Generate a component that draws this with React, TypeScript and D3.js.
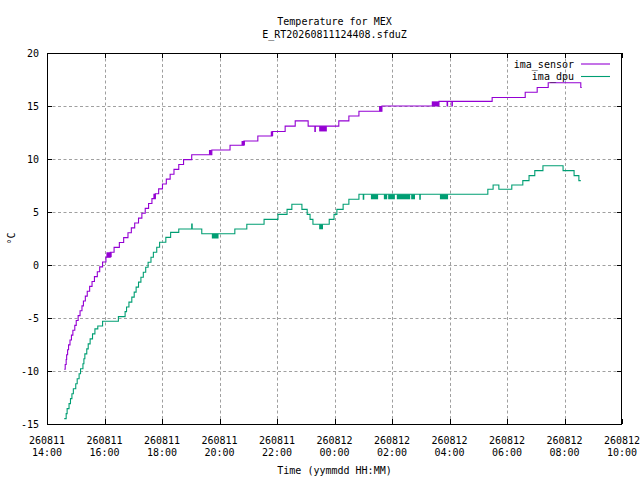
import React from "react";
import * as d3 from "d3";

// ---------- data ----------
const sensorTimes = [
  "260811 14:36", "260811 14:38", "260811 14:40", "260811 14:41", "260811 14:43", "260811 14:45",
  "260811 14:48", "260811 14:51", "260811 14:54", "260811 14:58", "260811 15:01", "260811 15:05",
  "260811 15:09", "260811 15:13", "260811 15:16", "260811 15:20", "260811 15:24", "260811 15:29",
  "260811 15:34", "260811 15:39", "260811 15:45", "260811 15:50", "260811 15:56", "260811 16:03",
  "260811 16:12", "260811 16:20", "260811 16:31", "260811 16:40", "260811 16:49", "260811 16:56",
  "260811 17:03", "260811 17:11", "260811 17:18", "260811 17:25", "260811 17:32", "260811 17:39",
  "260811 17:46", "260811 17:53", "260811 18:01", "260811 18:09", "260811 18:17", "260811 18:25",
  "260811 18:35", "260811 18:45", "260811 19:02", "260811 19:44", "260811 20:22", "260811 20:51",
  "260811 21:20", "260811 21:50", "260811 22:17", "260811 22:38", "260811 23:05", "260811 23:19",
  "260811 23:20", "260812 00:09", "260812 00:30", "260812 00:51", "260812 01:39", "260812 03:38",
  "260812 03:55", "260812 03:56", "260812 04:05", "260812 04:06", "260812 05:29", "260812 06:38",
  "260812 07:03", "260812 07:26", "260812 08:34", "260812 08:36",
];
const sensorValues = [
  -9.84, -9.38, -8.92, -8.46, -8.0, -7.54,
  -7.08, -6.62, -6.16, -5.7, -5.24, -4.78,
  -4.32, -3.86, -3.4, -2.94, -2.48, -2.02,
  -1.56, -1.1, -0.64, -0.18, 0.28, 0.74,
  1.2, 1.66, 2.12, 2.58, 3.04, 3.5,
  3.96, 4.42, 4.88, 5.34, 5.8, 6.26,
  6.72, 7.18, 7.64, 8.1, 8.56, 9.02,
  9.48, 9.94, 10.4, 10.85, 11.3, 11.7,
  12.17, 12.6, 13.1, 13.6, 13.1, 12.6,
  13.1, 13.6, 14.05, 14.5, 15.0, 15.44,
  15.0, 15.44, 15.0, 15.44, 15.8, 16.3,
  16.75, 17.2, 16.75, 16.75,
];
// fast flickering between two levels (drawn as solid blocks)
const sensorBandStart = ["260811 16:04", "260811 17:42", "260811 19:38", "260811 20:46", "260811 21:47", "260811 23:28", "260812 01:33", "260812 03:23"];
const sensorBandEnd = ["260811 16:15", "260811 17:47", "260811 19:44", "260811 20:53", "260811 21:52", "260811 23:44", "260812 01:39", "260812 03:38"];
const sensorBandLo = [0.74, 6.26, 10.4, 11.3, 12.17, 12.6, 14.5, 15.0];
const sensorBandHi = [1.2, 6.72, 10.85, 11.7, 12.6, 13.1, 15.0, 15.44];

const dpuTimes = [
  "260811 14:36", "260811 14:40", "260811 14:42", "260811 14:46", "260811 14:49", "260811 14:52",
  "260811 14:55", "260811 15:00", "260811 15:03", "260811 15:07", "260811 15:10", "260811 15:15",
  "260811 15:17", "260811 15:19", "260811 15:23", "260811 15:26", "260811 15:30", "260811 15:35",
  "260811 15:40", "260811 15:46", "260811 15:56", "260811 16:29", "260811 16:43", "260811 16:46",
  "260811 16:51", "260811 16:57", "260811 17:02", "260811 17:06", "260811 17:11", "260811 17:16",
  "260811 17:21", "260811 17:26", "260811 17:31", "260811 17:37", "260811 17:42", "260811 17:49",
  "260811 17:55", "260811 18:08", "260811 18:18", "260811 18:35", "260811 19:02", "260811 19:03",
  "260811 19:23", "260811 20:32", "260811 20:57", "260811 21:33", "260811 22:02", "260811 22:21",
  "260811 22:31", "260811 22:52", "260811 23:03", "260811 23:09", "260811 23:15", "260811 23:49",
  "260811 23:59", "260812 00:05", "260812 00:18", "260812 00:30", "260812 00:51", "260812 01:00",
  "260812 01:01", "260812 02:58", "260812 02:59", "260812 05:20", "260812 05:31", "260812 05:43",
  "260812 06:10", "260812 06:33", "260812 06:46", "260812 06:58", "260812 07:15", "260812 07:57",
  "260812 08:20", "260812 08:30", "260812 08:34",
];
const dpuValues = [
  -14.49, -14.02, -13.55, -13.08, -12.61, -12.14,
  -11.67, -11.2, -10.73, -10.26, -9.79, -9.32,
  -8.85, -8.38, -7.91, -7.44, -6.97, -6.5,
  -6.03, -5.75, -5.3, -4.87, -4.4, -3.96,
  -3.5, -3.03, -2.56, -2.09, -1.62, -1.15,
  -0.68, -0.21, 0.26, 0.73, 1.2, 1.67,
  2.14, 2.61, 3.08, 3.4, 3.87, 3.4,
  2.95, 3.4, 3.84, 4.3, 4.78, 5.25,
  5.73, 5.25, 4.78, 4.3, 3.84, 4.3,
  4.78, 5.25, 5.73, 6.2, 6.67, 6.2,
  6.67, 6.2, 6.67, 7.14, 7.55, 7.14,
  7.55, 7.96, 8.43, 8.9, 9.37, 8.9,
  8.43, 7.96, 7.96,
];
const dpuBandStart = ["260811 19:44", "260811 23:28", "260812 01:16", "260812 01:43", "260812 01:52", "260812 02:10", "260812 02:40", "260812 03:40"];
const dpuBandEnd = ["260811 19:58", "260811 23:36", "260812 01:31", "260812 01:50", "260812 02:06", "260812 02:38", "260812 02:48", "260812 03:57"];
const dpuBandLo = [2.5, 3.37, 6.2, 6.2, 6.2, 6.2, 6.2, 6.2];
const dpuBandHi = [2.95, 3.84, 6.67, 6.67, 6.67, 6.67, 6.67, 6.67];

const xTickTimes = [
  "260811 14:00", "260811 16:00", "260811 18:00", "260811 20:00", "260811 22:00", "260812 00:00",
  "260812 02:00", "260812 04:00", "260812 06:00", "260812 08:00", "260812 10:00",
];
const yTicks = [-15, -10, -5, 0, 5, 10, 15, 20];
const seriesNames = ["ima_sensor", "ima_dpu"];
const seriesColors = ["#9400d3", "#009e73"];

const titleLines = ["Temperature for MEX", "E_RT20260811124408.sfduZ"];
const xLabel = "Time (yymmdd HH:MM)";
const yLabel = "°C";

// ---------- layout ----------
const W = 640;
const H = 480;
const L = 47;
const R = 622;
const T = 53;
const B = 424;
const FONT = "'DejaVu Sans Mono', 'Liberation Mono', monospace";

const parse = d3.timeParse("%y%m%d %H:%M");
const fmtDate = d3.timeFormat("%y%m%d");
const fmtTime = d3.timeFormat("%H:%M");

export default function App() {
  const x = d3
    .scaleTime()
    .domain([parse(xTickTimes[0]) as Date, parse(xTickTimes[xTickTimes.length - 1]) as Date])
    .range([L, R]);
  const y = d3.scaleLinear().domain([-15, 20]).range([B, T]);

  type P = { t: Date; v: number };
  const line = d3
    .line<P>()
    .x((d) => x(d.t))
    .y((d) => y(d.v))
    .curve(d3.curveStepAfter);

  const sensor: P[] = sensorTimes.map((s, i) => ({ t: parse(s) as Date, v: sensorValues[i] }));
  const dpu: P[] = dpuTimes.map((s, i) => ({ t: parse(s) as Date, v: dpuValues[i] }));

  const bands = [
    { s: sensorBandStart, e: sensorBandEnd, lo: sensorBandLo, hi: sensorBandHi, c: seriesColors[0] },
    { s: dpuBandStart, e: dpuBandEnd, lo: dpuBandLo, hi: dpuBandHi, c: seriesColors[1] },
  ];

  const xTicks = xTickTimes.map((s) => parse(s) as Date);
  const tickLen = 5;
  const lw = 1.1;

  return (
    <svg
      width={W}
      height={H}
      style={{ position: "absolute", left: 0, top: 0, background: "#fff" }}
      fontFamily={FONT}
      fontSize={10}
    >
      <rect x={0} y={0} width={W} height={H} fill="#fff" />
      {/* grid */}
      <g stroke="#a0a0a0" strokeWidth={1} strokeDasharray="3 2.5" fill="none">
        {yTicks
          .filter((v) => v > -15 && v < 20)
          .map((v) => (
            <line key={"gy" + v} x1={L} x2={R} y1={Math.round(y(v)) + 0.5} y2={Math.round(y(v)) + 0.5} />
          ))}
        {xTicks.slice(1, -1).map((t, i) => (
          <line key={"gx" + i} x1={Math.round(x(t)) + 0.5} x2={Math.round(x(t)) + 0.5} y1={T} y2={B} />
        ))}
      </g>
      {/* ticks */}
      <g stroke="#000" strokeWidth={1}>
        {yTicks.map((v) => {
          const yy = Math.round(y(v)) + 0.5;
          return (
            <g key={"ty" + v}>
              <line x1={L} x2={L + tickLen} y1={yy} y2={yy} />
              <line x1={R - tickLen} x2={R} y1={yy} y2={yy} />
            </g>
          );
        })}
        {xTicks.map((t, i) => {
          const xx = Math.round(x(t)) + 0.5;
          return (
            <g key={"tx" + i}>
              <line x1={xx} x2={xx} y1={B} y2={B - tickLen} />
              <line x1={xx} x2={xx} y1={T} y2={T + tickLen} />
            </g>
          );
        })}
      </g>
      {/* series */}
      {bands.map((b, k) =>
        b.s.map((s, i) => {
          const x0 = x(parse(s) as Date);
          const x1 = x(parse(b.e[i]) as Date);
          return (
            <rect
              key={"b" + k + "-" + i}
              x={x0}
              width={Math.max(1, x1 - x0)}
              y={y(b.hi[i])}
              height={y(b.lo[i]) - y(b.hi[i])}
              fill={b.c}
            />
          );
        })
      )}
      <path d={line(sensor) || ""} fill="none" stroke={seriesColors[0]} strokeWidth={lw} />
      <path d={line(dpu) || ""} fill="none" stroke={seriesColors[1]} strokeWidth={lw} />
      {/* border */}
      <rect x={L + 0.5} y={T + 0.5} width={R - L - 1} height={B - T} fill="none" stroke="#000" strokeWidth={1} />
      {/* y tick labels */}
      {yTicks.map((v) => (
        <text key={"ly" + v} x={39} y={y(v) + 3.5} textAnchor="end" fill="#000">
          {String(v)}
        </text>
      ))}
      {/* x tick labels */}
      {xTicks.map((t, i) => (
        <text key={"lx" + i} x={x(t)} textAnchor="middle" fill="#000">
          <tspan x={x(t)} y={443.5}>
            {fmtDate(t)}
          </tspan>
          <tspan x={x(t)} y={456}>
            {fmtTime(t)}
          </tspan>
        </text>
      ))}
      {/* titles */}
      <text x={(L + R) / 2} y={25} textAnchor="middle" fill="#000">
        {titleLines[0]}
      </text>
      <text x={(L + R) / 2} y={38} textAnchor="middle" fill="#000">
        {titleLines[1]}
      </text>
      <text x={(L + R) / 2} y={474} textAnchor="middle" fill="#000">
        {xLabel}
      </text>
      <text x={14.5} y={(T + B) / 2} textAnchor="middle" fill="#000" transform={`rotate(-90 14.5 ${(T + B) / 2})`}>
        {yLabel}
      </text>
      {/* legend */}
      {seriesNames.map((n, i) => {
        const ly = 64 + i * 12.5;
        return (
          <g key={"lg" + n}>
            <text x={574} y={ly + 3.5} textAnchor="end" fill="#000">
              {n}
            </text>
            <line x1={581} x2={610} y1={ly} y2={ly} stroke={seriesColors[i]} strokeWidth={lw} />
          </g>
        );
      })}
    </svg>
  );
}
